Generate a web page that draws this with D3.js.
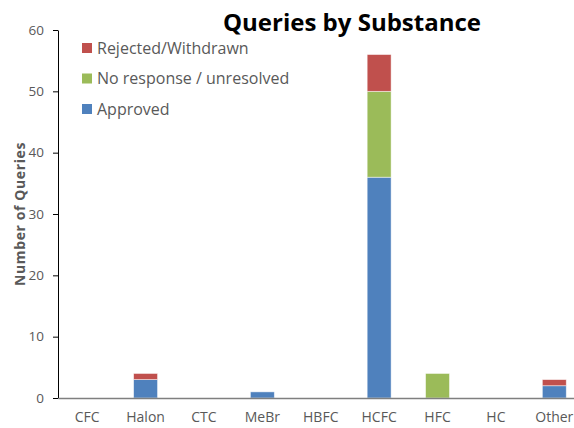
<!DOCTYPE html>
<html>
<head>
<meta charset="utf-8">
<script src="https://cdn.jsdelivr.net/npm/d3@7"></script>
<style>
  html, body { margin: 0; padding: 0; background: #fff; }
  svg { display: block; font-family: "Open Sans", "DejaVu Sans", sans-serif; }
</style>
</head>
<body>
<svg id="chart" width="574" height="428"></svg>
<script>
// Queries per substance, stacked by outcome
const categories = ["CFC", "Halon", "CTC", "MeBr", "HBFC", "HCFC", "HFC", "HC", "Other"];
const approved   = [0, 3, 0, 1, 0, 36, 0, 0, 2];
const noResponse = [0, 0, 0, 0, 0, 14, 4, 0, 0];
const rejected   = [0, 1, 0, 0, 0, 6, 0, 0, 1];
const seriesNames = ["Approved", "No response / unresolved", "Rejected/Withdrawn"];
const seriesKeys = ["approved", "noResponse", "rejected"];
const colors = ["#4F81BD", "#9BBB59", "#C0504D"];
const yTicks = [0, 10, 20, 30, 40, 50, 60];

const rows = categories.map((c, i) => ({
  cat: c, approved: approved[i], noResponse: noResponse[i], rejected: rejected[i]
}));

const svg = d3.select("#chart");
// the plot area runs a little past the right edge of the canvas
const plotLeft = 58, plotRight = 583.5, plotTop = 30, plotBottom = 398;

const x = d3.scaleBand().domain(categories).range([plotLeft, plotRight])
  .paddingInner(0.59).paddingOuter(0.295);
const y = d3.scaleLinear().domain([0, 60]).range([plotBottom, plotTop]);

const stack = d3.stack().keys(seriesKeys)(rows);

svg.append("g").selectAll("g")
  .data(stack).join("g")
  .attr("fill", (d, i) => colors[i])
  .selectAll("rect")
  .data(d => d.filter(p => p[1] > p[0])).join("rect")
  .attr("x", d => x(d.data.cat))
  .attr("width", x.bandwidth())
  .attr("y", d => y(d[1]))
  .attr("height", d => y(d[0]) - y(d[1]))
  .attr("stroke", "#ffffff")
  .attr("stroke-opacity", 0.6)
  .attr("stroke-width", 0.8);

// y axis
const yAxis = svg.append("g")
  .attr("transform", `translate(${plotLeft},0)`)
  .call(d3.axisLeft(y).tickValues(yTicks).tickSize(5).tickPadding(9).tickSizeOuter(0));
yAxis.select(".domain").attr("stroke", "#000").attr("stroke-width", 1);
yAxis.selectAll(".tick line").attr("stroke", "#000");
yAxis.selectAll(".tick text")
  .attr("fill", "#595959").style("font-size", "13.5px")
  .style("font-family", "'Open Sans', sans-serif");

// x axis
const xAxis = svg.append("g")
  .attr("transform", `translate(0,${plotBottom})`)
  .call(d3.axisBottom(x).tickSize(0).tickPadding(14).tickSizeOuter(0));
xAxis.select(".domain").attr("stroke", "#7f7f7f").attr("stroke-width", 1.5);
xAxis.selectAll(".tick text")
  .attr("fill", "#595959").style("font-size", "14px")
  .style("font-family", "'Open Sans', sans-serif");

// axis title
svg.append("text")
  .attr("transform", "translate(25,214) rotate(-90)")
  .attr("text-anchor", "middle")
  .attr("fill", "#595959")
  .style("font-size", "14px").style("font-weight", "bold")
  .style("letter-spacing", "0.6px")
  .text("Number of  Queries");

// chart title
svg.append("text")
  .attr("x", 352).attr("y", 31)
  .attr("text-anchor", "middle")
  .attr("fill", "#000")
  .style("font-size", "24px").style("font-weight", "bold")
  .text("Queries by Substance");

// legend, top to bottom in reverse stack order
const legendItems = [2, 1, 0];
const lg = svg.append("g").selectAll("g")
  .data(legendItems).join("g")
  .attr("transform", (d, i) => `translate(82,${48 + i * 30.5})`);
lg.append("rect").attr("x", 0).attr("y", -5).attr("width", 10).attr("height", 10)
  .attr("fill", d => colors[d]);
lg.append("text").attr("x", 15).attr("y", 5.5)
  .attr("fill", "#595959").style("font-size", "16px")
  .text(d => seriesNames[d]);
</script>
</body>
</html>
